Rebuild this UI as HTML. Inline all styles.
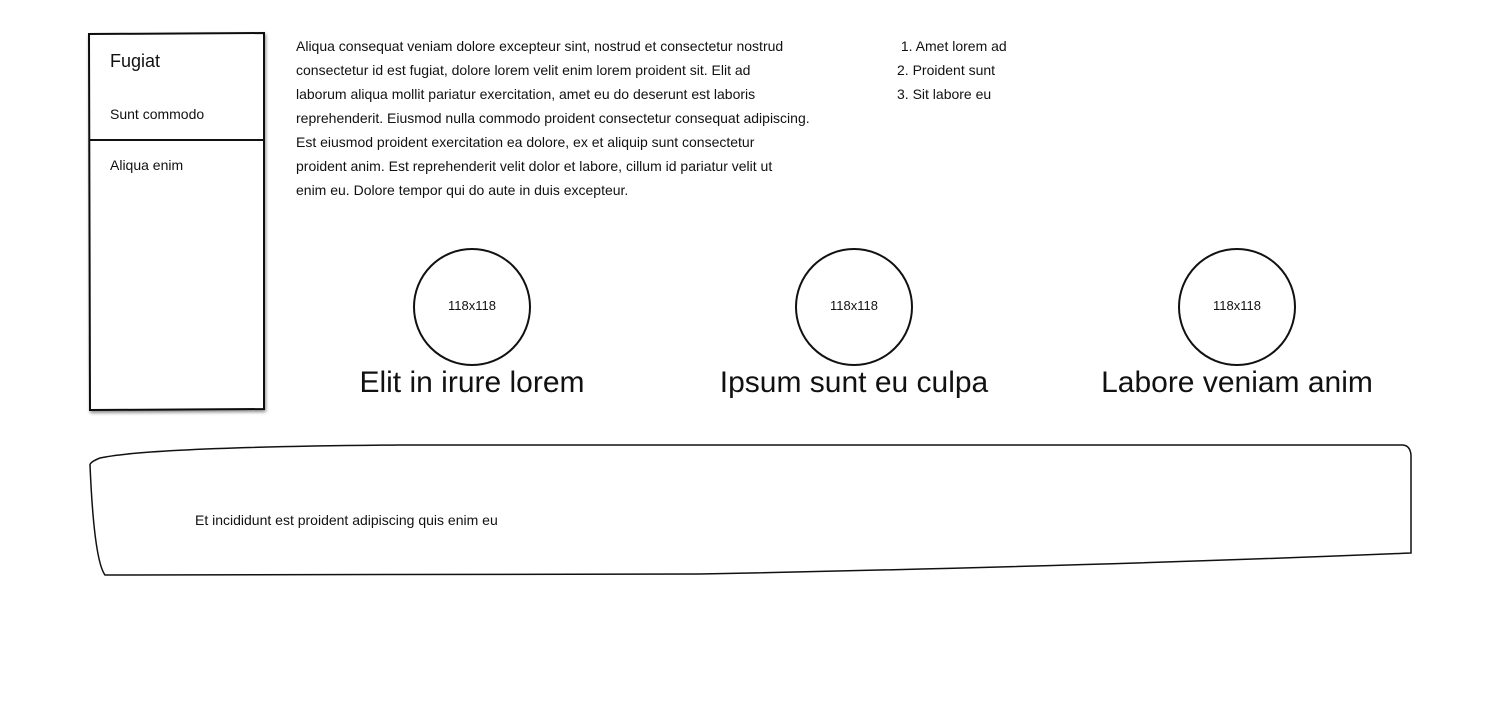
<!DOCTYPE html>
<html><head><meta charset="utf-8"><style>
html,body{margin:0;padding:0;background:#fff;width:1500px;height:720px;overflow:hidden;position:relative;font-family:"Liberation Sans",sans-serif;color:#111}
.a{position:absolute;white-space:nowrap}
</style></head><body>
<svg class="a" style="left:0;top:0" width="1500" height="720">
<defs><filter id="s" x="-10%" y="-10%" width="130%" height="130%"><feDropShadow dx="1" dy="2" stdDeviation="1.5" flood-color="#000" flood-opacity="0.45"/></filter></defs>
<path d="M89 34 L264 33 L264 409 L90 410 Z" fill="#fff" stroke="#111" stroke-width="2" filter="url(#s)"/>
<line x1="90" y1="140" x2="264" y2="140" stroke="#111" stroke-width="2"/>
<circle cx="472" cy="307" r="58" fill="none" stroke="#111" stroke-width="2"/>
<circle cx="854" cy="307" r="58" fill="none" stroke="#111" stroke-width="2"/>
<circle cx="1237" cy="307" r="58" fill="none" stroke="#111" stroke-width="2"/>
<path d="M100 458 Q90 462 90 465 Q94 560 105 575 L700 574 Q1100 566 1411 553 L1411 455 Q1410 445 1402 445 L400 445 Q150 447 100 458 Z" fill="none" stroke="#111" stroke-width="1.5"/>
</svg>
<div class="a" style="left:110px;top:51px;font-size:18px">Fugiat</div>
<div class="a" style="left:110px;top:106px;font-size:14px">Sunt commodo</div>
<div class="a" style="left:110px;top:157px;font-size:14px">Aliqua enim</div>
<div class="a" style="left:296px;top:34px;font-size:14px;line-height:24px">Aliqua consequat veniam dolore excepteur sint, nostrud et consectetur nostrud<br>consectetur id est fugiat, dolore lorem velit enim lorem proident sit. Elit ad<br>laborum aliqua mollit pariatur exercitation, amet eu do deserunt est laboris<br>reprehenderit. Eiusmod nulla commodo proident consectetur consequat adipiscing.<br>Est eiusmod proident exercitation ea dolore, ex et aliquip sunt consectetur<br>proident anim. Est reprehenderit velit dolor et labore, cillum id pariatur velit ut<br>enim eu. Dolore tempor qui do aute in duis excepteur.</div>
<div class="a" style="left:897px;top:34px;font-size:14px;line-height:24px">&nbsp;1. Amet lorem ad<br>2. Proident sunt<br>3. Sit labore eu</div>
<div class="a" style="left:412px;top:298px;width:120px;text-align:center;font-size:13px">118x118</div>
<div class="a" style="left:794px;top:298px;width:120px;text-align:center;font-size:13px">118x118</div>
<div class="a" style="left:1177px;top:298px;width:120px;text-align:center;font-size:13px">118x118</div>
<div class="a" style="left:322px;top:366px;width:300px;text-align:center;font-size:30px">Elit in irure lorem</div>
<div class="a" style="left:704px;top:366px;width:300px;text-align:center;font-size:30px">Ipsum sunt eu culpa</div>
<div class="a" style="left:1087px;top:366px;width:300px;text-align:center;font-size:30px">Labore veniam anim</div>
<div class="a" style="left:195px;top:512px;font-size:14px">Et incididunt est proident adipiscing quis enim eu</div>
</body></html>
